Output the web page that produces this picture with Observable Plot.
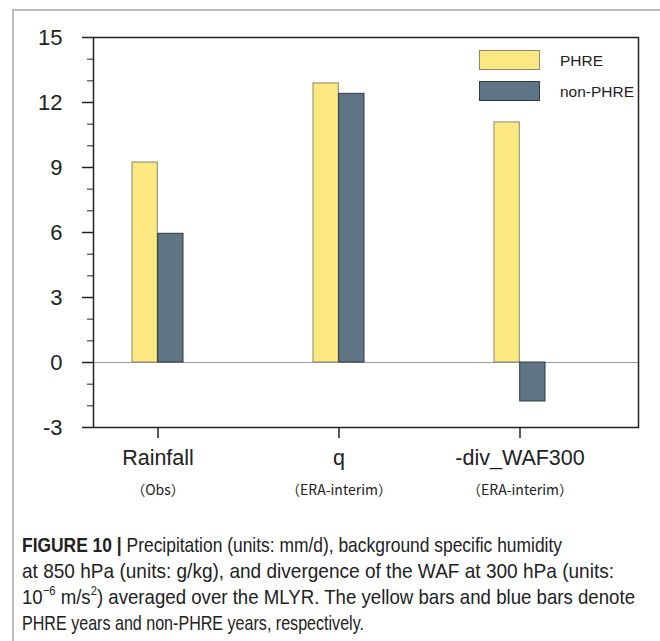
<!DOCTYPE html>
<html>
<head>
<meta charset="utf-8">
<script src="https://cdn.jsdelivr.net/npm/d3@7"></script>
<script src="https://cdn.jsdelivr.net/npm/@observablehq/plot@0.6"></script>
<style>
  html, body { margin: 0; padding: 0; background: #fff; }
  body { width: 660px; height: 641px; position: relative; overflow: hidden; font-family: "Liberation Sans", Arial, sans-serif; }
  #border { position: absolute; left: 12px; top: 9px; width: 660px; height: 660px; border-left: 2px solid #bdbdbd; border-top: 2px solid #bdbdbd; }
  #chart { position: absolute; left: 0; top: 0; }
  #legend { position: absolute; left: 479px; top: 50px; font-size: 15.5px; color: #222; }
  .item { position: absolute; left: 0; width: 250px; height: 21px; }
  .sw { position: absolute; left: 0; top: 0; width: 61px; height: 20px; box-sizing: border-box; }
  .lab { position: absolute; left: 81px; top: 1px; line-height: 20px; white-space: nowrap; }
  #caption { position: absolute; left: 22px; top: 532px; width: 640px; font-family: "Liberation Sans", Arial, sans-serif; font-size: 21px; line-height: 26px; color: #222; }
  #caption .ln { white-space: nowrap; display: block; width: max-content; transform-origin: 0 50%; }
  #caption b { font-weight: bold; }
  sup { font-size: 0.6em; line-height: 0; vertical-align: 0.75em; }
</style>
</head>
<body>
<div id="border"></div>
<div id="chart"></div>
<div id="legend"></div>
<div id="caption"><span class="ln" data-w="540"><b>FIGURE 10 |</b> Precipitation (units: mm/d), background specific humidity</span><span class="ln" data-w="592">at 850 hPa (units: g/kg), and divergence of the WAF at 300 hPa (units:</span><span class="ln" data-w="613">10<sup>−6</sup> m/s<sup>2</sup>) averaged over the MLYR. The yellow bars and blue bars denote</span><span class="ln" data-w="342">PHRE years and non-PHRE years, respectively.</span></div>
<script>
// ---- data ----
const categories = ["Rainfall", "q", "-div_WAF300"];
const sources = ["（Obs）", "（ERA-interim）", "（ERA-interim）"];
const seriesNames = ["PHRE", "non-PHRE"];
const phreValues = [9.23, 12.88, 11.08];
const nonPhreValues = [5.94, 12.4, -1.8];
const yTicks = [-3, 0, 3, 6, 9, 12, 15];
const yMinorTicks = [-2, -1, 1, 2, 4, 5, 7, 8, 10, 11, 13, 14];

// ---- styles ----
const colors = {"PHRE": "#fce883", "non-PHRE": "#5f7585"};
const strokes = {"PHRE": "#8a876a", "non-PHRE": "#2f3a40"};

const phre = categories.map((c, i) => ({cat: c, value: phreValues[i]}));
const nonPhre = categories.map((c, i) => ({cat: c, value: nonPhreValues[i]}));
const labels = categories.map((c, i) => ({cat: c, src: sources[i]}));

const halfBand = 25.7;

const chart = Plot.plot({
  width: 660,
  height: 510,
  marginLeft: 93,
  marginRight: 22,
  marginTop: 37,
  marginBottom: 83,
  x: {type: "band", domain: categories, range: [66.1, 611.2], paddingInner: 0.717, paddingOuter: 0.3585},
  y: {domain: [-3, 15]},
  style: {fontFamily: "Liberation Sans, Arial, sans-serif", color: "#222", background: "transparent"},
  marks: [
    Plot.ruleY([0], {stroke: "#9a9a9a", strokeWidth: 1.2}),
    Plot.barY(phre, {x: "cat", y: "value", fill: colors["PHRE"], stroke: strokes["PHRE"], strokeWidth: 1, insetRight: halfBand, insetLeft: 0}),
    Plot.barY(nonPhre, {x: "cat", y: "value", fill: colors["non-PHRE"], stroke: strokes["non-PHRE"], strokeWidth: 1, insetLeft: halfBand, insetRight: 0}),
    Plot.frame({stroke: "#222", strokeWidth: 1.5}),
    Plot.axisY({ticks: yTicks, tickSize: 11, tickPadding: 20, fontSize: 22, strokeWidth: 1.5, label: null, tickFormat: d => String(d)}),
    Plot.axisY({ticks: yMinorTicks, tickSize: 6, strokeWidth: 1, text: null, label: null}),
    Plot.axisX({tickSize: 11, strokeWidth: 1.5, text: null, label: null}),
    Plot.text(labels, {x: "cat", text: "cat", frameAnchor: "bottom", dy: 37, fontSize: 21.5, fill: "#222",
      fontFamily: d => d.cat === "q" ? "Liberation Serif, serif" : "Liberation Sans, Arial, sans-serif"}),
    Plot.text(labels, {x: "cat", text: "src", frameAnchor: "bottom", dy: 67, fontSize: 14, fill: "#222", fontFamily: "Noto Sans CJK SC, sans-serif"})
  ]
});
document.getElementById("chart").appendChild(chart);

// ---- legend ----
const legend = document.getElementById("legend");
seriesNames.forEach((s, i) => {
  const item = document.createElement("div");
  item.className = "item";
  item.style.top = (i * 31) + "px";
  const sw = document.createElement("div");
  sw.className = "sw";
  sw.style.background = colors[s];
  sw.style.border = "1px solid " + strokes[s];
  const lab = document.createElement("div");
  lab.className = "lab";
  lab.textContent = s;
  item.appendChild(sw);
  item.appendChild(lab);
  legend.appendChild(item);
});

// ---- condense caption lines to the reference's narrow type ----
document.querySelectorAll("#caption .ln").forEach(el => {
  const w = el.getBoundingClientRect().width;
  el.style.transform = "scaleX(" + (+el.dataset.w / w) + ")";
});
</script>
</body>
</html>
